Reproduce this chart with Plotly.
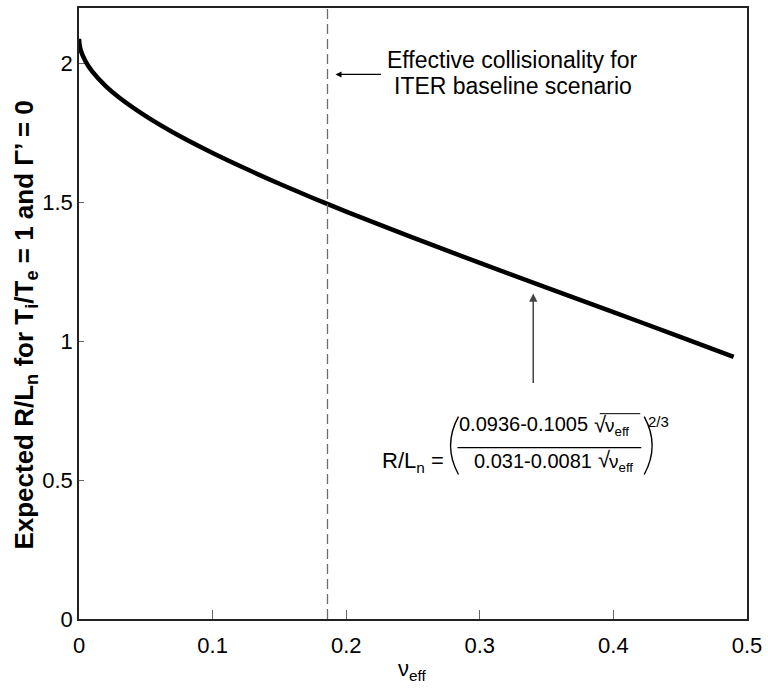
import plotly.graph_objects as go

# Expected R/L_n versus effective collisionality
nu_eff = [0.0, 0.001, 0.005, 0.01, 0.02, 0.03, 0.05, 0.075, 0.1, 0.125, 0.15,
          0.175, 0.2, 0.25, 0.3, 0.35, 0.4, 0.45, 0.49]
r_over_ln = [2.089, 2.053, 2.007, 1.971, 1.919, 1.878, 1.811, 1.740, 1.678,
             1.621, 1.567, 1.516, 1.467, 1.373, 1.282, 1.193, 1.105, 1.016, 0.944]

iter_nu_eff = 0.186          # ITER baseline collisionality (dashed line)
pointer_at = (0.34, 1.172)   # where the formula arrow points

x_ticks = [0, 0.1, 0.2, 0.3, 0.4, 0.5]
x_tick_text = ["0", "0.1", "0.2", "0.3", "0.4", "0.5"]
y_ticks = [0, 0.5, 1, 1.5, 2]
y_tick_text = ["0", "0.5", "1", "1.5", "2"]

W, H = 768, 692
L, R, T, B = 79, 13, 6, 73
PW, PH = W - L - R, H - T - B
FONT = "Liberation Sans, Arial, Helvetica, sans-serif"


def px(x):
    return (x - L) / PW


def py(y):
    return (H - B - y) / PH


fig = go.Figure()
fig.add_trace(go.Scatter(x=nu_eff, y=r_over_ln, mode="lines",
                         line=dict(color="black", width=4.5, shape="spline"),
                         hoverinfo="skip", showlegend=False))

shapes = [
    dict(type="line", xref="x", yref="paper", x0=iter_nu_eff, x1=iter_nu_eff,
         y0=0, y1=1, line=dict(color="#6e6e6e", width=1.3, dash="10px,5px")),
    # fraction bar
    dict(type="line", xref="paper", yref="paper", x0=px(462), x1=px(648),
         y0=py(447), y1=py(447), line=dict(color="black", width=1.2)),
    # overline of the numerator square root
    dict(type="line", xref="paper", yref="paper", x0=px(606), x1=px(647),
         y0=py(413), y1=py(413), line=dict(color="black", width=1)),
    # large parentheses
    dict(type="path", xref="paper", yref="paper",
         path=f"M {px(463)},{py(416)} Q {px(447)},{py(445)} {px(463)},{py(474)}",
         line=dict(color="black", width=1.4)),
    dict(type="path", xref="paper", yref="paper",
         path=f"M {px(651)},{py(416)} Q {px(667)},{py(445)} {px(651)},{py(474)}",
         line=dict(color="black", width=1.4)),
]


def txt(x, y, text, size, anchor="left", **kw):
    return dict(xref="paper", yref="paper", x=px(x), y=py(y), text=text,
                showarrow=False, xanchor=anchor, yanchor="middle",
                font=dict(family=FONT, size=size, color="black"), **kw)


annotations = [
    # ITER pointer
    dict(xref="x", yref="y", x=0.192, y=1.961, ax=47, ay=0, text="",
         showarrow=True, arrowhead=2, arrowsize=1, arrowwidth=1.2,
         arrowcolor="black"),
    txt(389, 58, "Effective collisionality for", 23),
    txt(396, 84, "ITER baseline scenario", 23),
    # formula pointer
    dict(xref="x", yref="y", x=pointer_at[0], y=pointer_at[1], ax=0, ay=91,
         text="", showarrow=True, arrowhead=2, arrowsize=1.1, arrowwidth=1.5,
         arrowcolor="#444444"),
    # formula
    txt(450, 461, "R/L<sub>n</sub> =", 22, anchor="right"),
    txt(596, 423, "0.0936-0.1005", 20, anchor="right"),
    txt(598, 424, "√", 22),
    txt(609, 426, "ν<sub>eff</sub>", 19),
    txt(600, 460, "0.031-0.0081", 20, anchor="right"),
    txt(602, 459, "√", 22),
    txt(613, 462, "ν<sub>eff</sub>", 19),
    txt(653, 421, "2/3", 15),
    # axis titles
    txt(416, 670, "ν<sub>eff</sub>", 22, anchor="center"),
    dict(xref="paper", yref="paper", x=px(25), y=py(324),
         text="<b>Expected R/L<sub>n</sub> for T<sub>i</sub>/T<sub>e</sub> = 1 and Γ’ = 0</b>",
         textangle=-90, showarrow=False, xanchor="center", yanchor="middle",
         font=dict(family=FONT, size=26, color="black")),
]

fig.update_layout(
    width=W, height=H,
    margin=dict(l=L, r=R, t=T, b=B),
    paper_bgcolor="white", plot_bgcolor="white",
    shapes=shapes, annotations=annotations,
    font=dict(family=FONT, size=22, color="black"),
)
fig.update_xaxes(range=[0, 0.50001], tickvals=x_ticks, ticktext=x_tick_text,
                 ticks="inside", ticklen=9, tickwidth=1, tickcolor="#666666",
                 showgrid=False, zeroline=False, showline=True,
                 linecolor="#222222", linewidth=2, mirror=True,
                 ticklabeloverflow="allow",
                 tickfont=dict(family=FONT, size=22), ticklabelstandoff=6)
fig.update_yaxes(range=[0, 2.2], tickvals=y_ticks, ticktext=y_tick_text,
                 ticks="inside", ticklen=5, tickwidth=1, tickcolor="#666666",
                 showgrid=False, zeroline=False, showline=True,
                 linecolor="#222222", linewidth=1.5, mirror=True,
                 tickfont=dict(family=FONT, size=22))

fig.write_html("out.html")
